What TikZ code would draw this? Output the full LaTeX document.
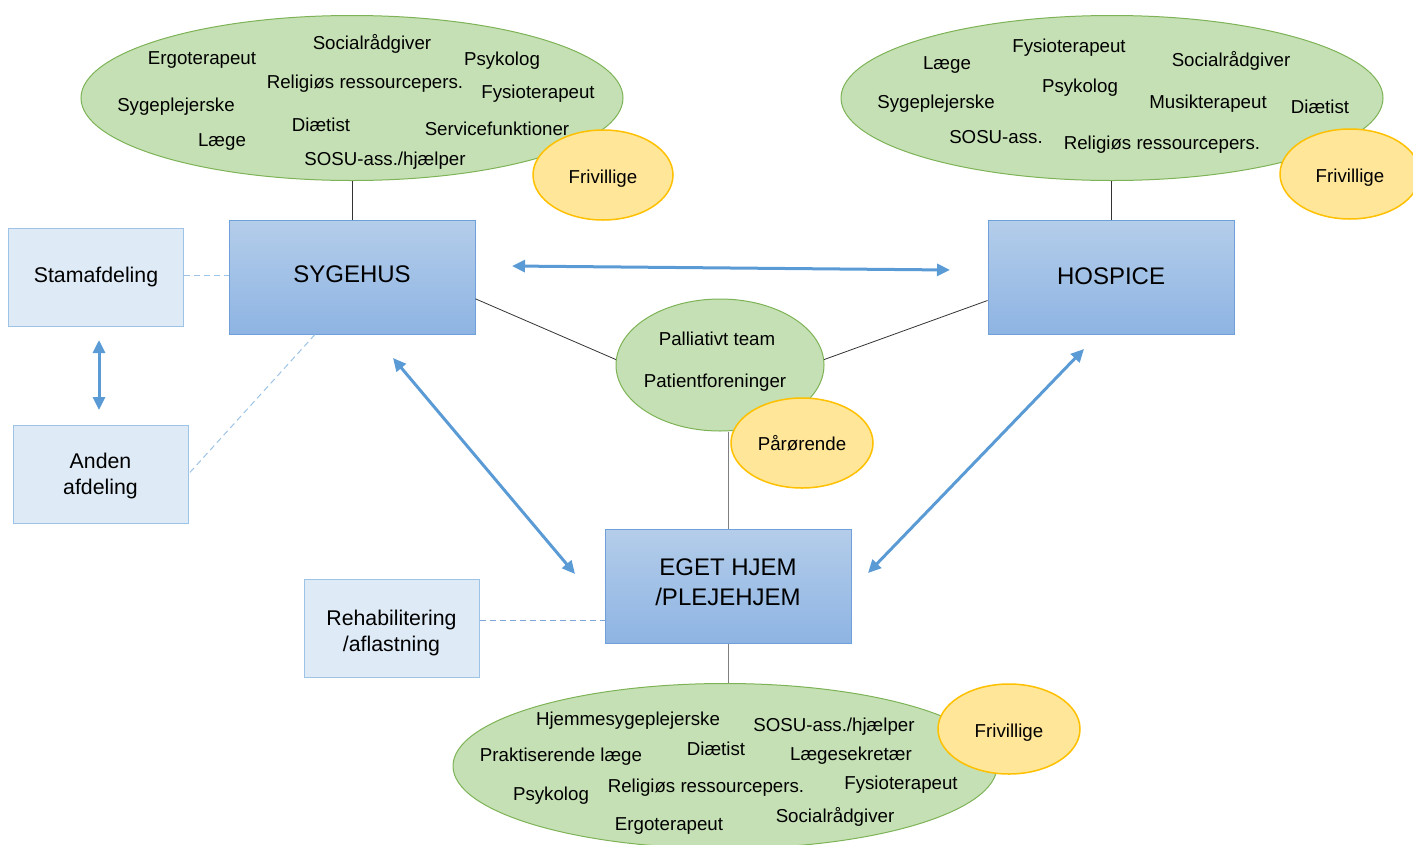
\documentclass[tikz,border=0pt]{standalone}
\usepackage{fontspec}
\setmainfont{Liberation Sans}
\usetikzlibrary{shapes.geometric,arrows.meta,calc}
\definecolor{grfill}{HTML}{C5E0B4}
\definecolor{grdraw}{HTML}{7DB356}
\definecolor{yfill}{HTML}{FFE699}
\definecolor{ydraw}{HTML}{FFC000}
\definecolor{btop}{HTML}{B4CDEA}
\definecolor{bbot}{HTML}{8EB4E3}
\definecolor{bdraw}{HTML}{6FA0DA}
\definecolor{lfill}{HTML}{DEEBF7}
\definecolor{ldraw}{HTML}{9DC3E6}
\definecolor{arr}{HTML}{5B9BD5}
\definecolor{dblue}{HTML}{7EA6D8}
\begin{document}
\begin{tikzpicture}[x=1pt,y=-1pt,
  grov/.style={ellipse, fill=grfill, draw=grdraw, line width=1pt, inner sep=0},
  yov/.style={ellipse, fill=yfill, draw=ydraw, line width=1.5pt, inner sep=0,
    minimum width=140pt, minimum height=90pt, font=\fontsize{18.7}{22}\selectfont},
  frv/.style={yov, text height=21.4pt, text depth=3.9pt},
  mainbox/.style={rectangle, top color=btop, bottom color=bbot, draw=bdraw, line width=1pt,
    minimum width=246pt, minimum height=114pt},
  maintxt/.style={font=\fontsize{24}{30}\selectfont, align=center, inner sep=0},
  sidebox/.style={rectangle, fill=lfill, draw=ldraw, line width=1pt, minimum width=175pt,
    minimum height=98pt},
  sidetxt/.style={font=\fontsize{21.3}{26}\selectfont, align=center, inner sep=0},
  lbl/.style={font=\fontsize{18.7}{22}\selectfont, inner sep=0, yshift=-2.5pt},
  conn/.style={draw=black!80, line width=0.8pt},
  gconn/.style={draw=black!50, line width=1pt},
  dconn/.style={draw=ldraw, dashed, dash pattern=on 6pt off 4pt, line width=1pt},
  dconnb/.style={draw=dblue, dashed, dash pattern=on 6pt off 4pt, line width=1pt},
  bia/.style={draw=arr, line width=3pt, {Triangle[length=13pt,width=12pt]}-{Triangle[length=13pt,width=12pt]}}
]
\useasboundingbox (0,0) rectangle (1413,844);
\clip (0,0) rectangle (1413,844);

% ellipses
\node[grov, minimum width=542pt, minimum height=165pt] (tl) at (352,98) {};
\node[grov, minimum width=542pt, minimum height=165pt] (tr) at (1112,98) {};
\node[grov, minimum width=208pt, minimum height=132pt] (mid) at (720,365) {};
\node[grov, minimum width=544pt, minimum height=165pt] (bot) at (725,766) {};
\node[frv] (f1) at (603,175) {Frivillige};
\node[frv] (f2) at (1350,174) {Frivillige};
\node[yov, minimum width=142pt] (par) at (802,443) {Pårørende};
\node[frv, minimum width=142pt] (f3) at (1009,729) {Frivillige};

% boxes
\node[mainbox] (syg) at (352,277) {};
\node[mainbox] (hosp) at (1111,277.5) {};
\node[mainbox] (eget) at (728,586) {};
\node[sidebox] (stam) at (96,277) {};
\node[sidebox] (anden) at (100.5,474) {};
\node[sidebox] (rehab) at (391.5,628.5) {};
\node[maintxt] (sygt) at ([yshift=3pt]syg.center) {SYGEHUS};
\node[maintxt] (hospt) at ([yshift=1pt]hosp.center) {HOSPICE};
\node[maintxt] (egett) at ([yshift=4pt]eget.center) {EGET HJEM\\/PLEJEHJEM};
\node[sidetxt] (stamt) at (stam.center) {Stamafdeling};
\node[sidetxt] (andent) at ([yshift=-2pt]anden.center) {Anden\\afdeling};
\node[sidetxt] (rehabt) at ([yshift=-4pt]rehab.center) {Rehabilitering\\/aflastning};

% labels top-left
\node[lbl] (a1) at (202,58) {Ergoterapeut};
\node[lbl] (a2) at (372,41) {Socialrådgiver};
\node[lbl] (a3) at (502,58) {Psykolog};
\node[lbl] (a4) at (365,81) {Religiøs ressourcepers.};
\node[lbl] (a5) at (538,91) {Fysioterapeut};
\node[lbl] (a6) at (176,104) {Sygeplejerske};
\node[lbl] (a7) at (321,122) {Diætist};
\node[lbl] (a8) at (497,126) {Servicefunktioner};
\node[lbl] (a9) at (222,140) {Læge};
\node[lbl] (a10) at (385,158) {SOSU-ass./hjælper};

% labels top-right
\node[lbl] (b1) at (947,63) {Læge};
\node[lbl] (b2) at (1069,45) {Fysioterapeut};
\node[lbl] (b3) at (1231,58) {Socialrådgiver};
\node[lbl] (b4) at (1080,85) {Psykolog};
\node[lbl] (b5) at (936,101) {Sygeplejerske};
\node[lbl] (b6) at (1208,101) {Musikterapeut};
\node[lbl] (b7) at (1320,104) {Diætist};
\node[lbl] (b8) at (996,135) {SOSU-ass.};
\node[lbl] (b9) at (1162,142) {Religiøs ressourcepers.};

% labels middle
\node[lbl] (m1) at (717,336) {Palliativt team};
\node[lbl] (m2) at (715,380) {Patientforeninger};

% labels bottom
\node[lbl] (c1) at (628,718) {Hjemmesygeplejerske};
\node[lbl] (c2) at (834,724) {SOSU-ass./hjælper};
\node[lbl] (c3) at (716,746) {Diætist};
\node[lbl] (c4) at (561,754) {Praktiserende læge};
\node[lbl] (c5) at (851,753) {Lægesekretær};
\node[lbl] (c6) at (551,793) {Psykolog};
\node[lbl] (c7) at (706,785) {Religiøs ressourcepers.};
\node[lbl] (c8) at (901,782) {Fysioterapeut};
\node[lbl] (c9) at (669,823) {Ergoterapeut};
\node[lbl] (c10) at (835,814) {Socialrådgiver};

% solid connectors
\draw[conn] (tl.south) -- (syg.north);
\draw[conn] (tr.south -| hosp.north) -- (hosp.north);
\draw[conn] ($(syg.north east)!0.69!(syg.south east)$) -- (mid.177);
\draw[conn] ($(hosp.north west)!0.70!(hosp.south west)$) -- (mid.3);
\draw[gconn] (eget.north) -- (eget.north |- mid.south);
\draw[gconn] (eget.south) -- (eget.south |- bot.north);

% dashed connectors
\draw[dconn] (stam.east |- 0,275) -- (syg.west |- 0,275);
\draw[dconn] ($(syg.south west)!0.35!(syg.south east)$) -- (anden.east);
\draw[dconnb] (rehab.east |- 0,620) -- (eget.west |- 0,620);

% blue double arrows
\coordinate (h1) at (512,266);
\coordinate (h2) at (950,270);
\coordinate (v1) at (99,340);
\coordinate (v2) at (99,410);
\coordinate (d1) at (393,358);
\coordinate (d2) at (575,574);
\coordinate (e1) at (1084,349);
\coordinate (e2) at (868,573);
\draw[bia] (h1) -- (h2);
\draw[bia] (v1) -- (v2);
\draw[bia] (d1) -- (d2);
\draw[bia] (e1) -- (e2);
\end{tikzpicture}
\end{document}
